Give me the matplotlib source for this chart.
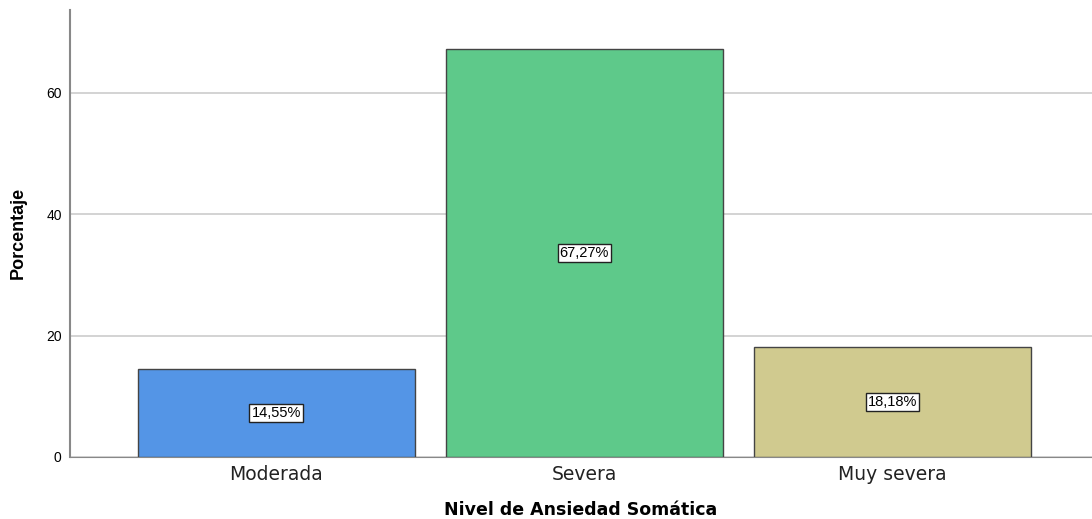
import matplotlib.pyplot as plt

# datos
categorias = ['Moderada', 'Severa', 'Muy severa']
porcentajes = [14.55, 67.27, 18.18]
etiquetas = ['14,55%', '67,27%', '18,18%']
colores = ['#5495e6', '#5ec98a', '#d0ca8f']

plt.rcParams['font.family'] = ['Liberation Sans', 'DejaVu Sans']

fig = plt.figure(figsize=(10.92, 5.19), dpi=100)
ax = fig.add_axes([0.0641, 0.1195, 0.9359, 0.8615])

x = range(len(categorias))
ax.bar(x, porcentajes, width=0.9, color=colores, edgecolor='#444444', linewidth=1, zorder=3)

for i, (v, t) in enumerate(zip(porcentajes, etiquetas)):
    ax.text(i, v / 2, t, ha='center', va='center', fontsize=10.5, zorder=4,
            bbox=dict(boxstyle='square,pad=0.15', fc='white', ec='#222222', lw=1))

ax.set_xlim(-0.67, 2.648)
ax.set_ylim(0, 73.7)
ax.set_yticks([0, 20, 40, 60])
ax.set_xticks(list(x))
ax.set_xticklabels(categorias, fontsize=13.5, color='#222222', family='DejaVu Sans')
ax.tick_params(axis='both', length=0)
ax.tick_params(axis='y', labelsize=10, pad=6)
ax.tick_params(axis='x', pad=6)
ax.yaxis.grid(True, color='#cccccc', linewidth=1.2, zorder=0)

for s in ['top', 'right']:
    ax.spines[s].set_visible(False)
ax.spines['left'].set_color('#888888')
ax.spines['bottom'].set_color('#888888')
ax.spines['left'].set_linewidth(1.5)

ax.set_ylabel('Porcentaje', fontsize=13, fontweight='bold', labelpad=14)
ax.set_xlabel('Nivel de Ansiedad Somática', fontsize=12.5, fontweight='bold', labelpad=12,
              family='DejaVu Sans')

fig.savefig('out.png', dpi=100)
